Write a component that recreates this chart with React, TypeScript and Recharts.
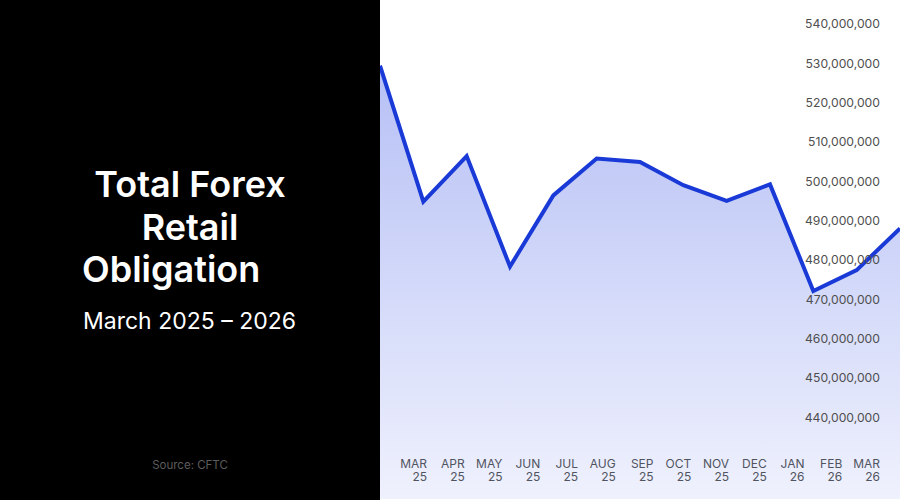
import React from "react"
import { AreaChart, Area, XAxis, YAxis } from "recharts"

const months = ["MAR 25", "APR 25", "MAY 25", "JUN 25", "JUL 25", "AUG 25", "SEP 25", "OCT 25", "NOV 25", "DEC 25", "JAN 26", "FEB 26", "MAR 26"]
const obligation = [529400000, 494800000, 506400000, 478300000, 496400000, 505800000, 504900000, 499000000, 495000000, 499200000, 472100000, 477400000, 488000000]
const yTicks = [440000000, 450000000, 460000000, 470000000, 480000000, 490000000, 500000000, 510000000, 520000000, 530000000, 540000000]

const data = months.map((m, i) => ({ month: m, value: obligation[i] }))

const FONT = "Inter, 'Noto Sans', sans-serif"

// two-line month label, right aligned, lifted above the bottom edge
const MonthTick = (props: any) => {
  const { x, y, payload } = props
  const [m, yr] = String(payload.value).split(" ")
  return (
    <g>
      <text x={x} y={y - 61} textAnchor="end" fill="#50545f" fontSize={12} fontFamily={FONT}>{m}</text>
      <text x={x} y={y - 48} textAnchor="end" fill="#50545f" fontSize={12} fontFamily={FONT}>{yr}</text>
    </g>
  )
}

export default function App() {
  return (
    <div style={{ position: "absolute", left: 0, top: 0, width: 900, height: 500, display: "flex", fontFamily: FONT }}>
      <div style={{ position: "relative", width: 380, height: 500, background: "#000", color: "#fff" }}>
        <div style={{ position: "absolute", left: 0, width: 380, top: 163, textAlign: "center", fontSize: 36, fontWeight: 600, lineHeight: "43px" }}>
          Total Forex
          <br />
          Retail
        </div>
        <div style={{ position: "absolute", left: 82, top: 248, fontSize: 36, fontWeight: 600, lineHeight: "43px" }}>
          Obligation
        </div>
        <div style={{ position: "absolute", left: 83, top: 306, fontSize: 23, lineHeight: "30px" }}>
          March 2025 – 2026
        </div>
        <div style={{ position: "absolute", left: 0, width: 380, top: 458, textAlign: "center", fontSize: 11.5, color: "#5c5c5c" }}>
          Source: CFTC
        </div>
      </div>
      <div style={{ width: 520, height: 500, background: "#fff" }}>
        <AreaChart width={520} height={500} data={data} margin={{ top: 0, right: 0, bottom: 0, left: 0 }}>
          <defs>
            <linearGradient id="fillGrad" x1="0" y1="0" x2="0" y2="1">
              <stop offset="0%" stopColor="#b6c0f5" />
              <stop offset="100%" stopColor="#eff1fd" />
            </linearGradient>
          </defs>
          <XAxis dataKey="month" hide />
          <XAxis
            xAxisId="labels"
            dataKey="month"
            height={1}
            padding={{ left: 47, right: 20 }}
            axisLine={false}
            tickLine={false}
            tickSize={0}
            tickMargin={0}
            interval={0}
            tick={<MonthTick />}
          />
          <YAxis
            orientation="right"
            mirror
            width={1}
            domain={[419200000, 546100000]}
            ticks={yTicks}
            interval={0}
            allowDataOverflow
            axisLine={false}
            tickLine={false}
            tickSize={0}
            tickMargin={20}
            tick={{ fill: "#4f4f4f", fontSize: 12.2, fontFamily: FONT }}
            tickFormatter={(v: number) => v.toLocaleString("en-US")}
          />
          <Area
            type="linear"
            dataKey="value"
            stroke="#1a3ad8"
            strokeWidth={4}
            fill="url(#fillGrad)"
            fillOpacity={1}
            baseValue="dataMin"
            isAnimationActive={false}
            dot={false}
            activeDot={false}
          />
        </AreaChart>
      </div>
    </div>
  )
}
